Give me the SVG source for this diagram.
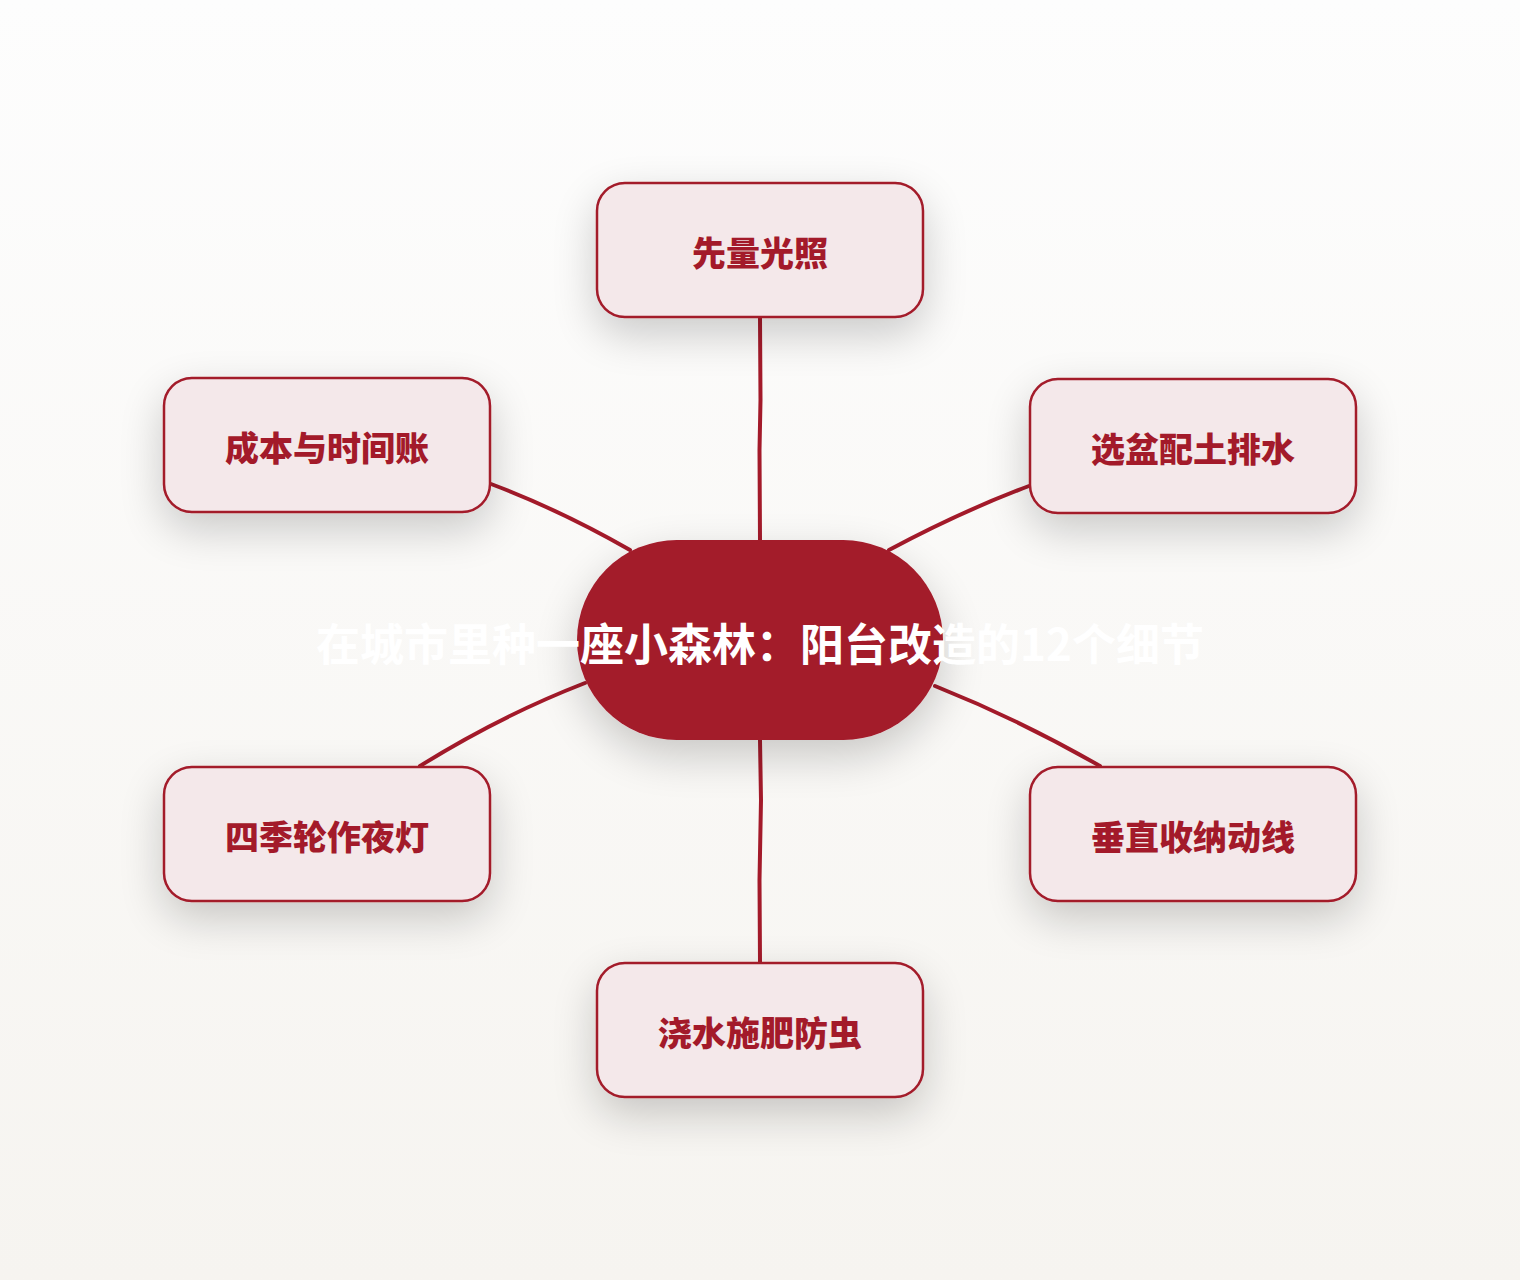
<svg xmlns="http://www.w3.org/2000/svg" width="1520" height="1280" viewBox="0 0 1520 1280">
<defs>
<linearGradient id="bg" x1="0" y1="0" x2="0" y2="1">
<stop offset="0" stop-color="#fdfdfd"/>
<stop offset="1" stop-color="#f6f4f0"/>
</linearGradient>
<filter id="sh" x="-40%" y="-50%" width="180%" height="220%">
<feGaussianBlur in="SourceAlpha" stdDeviation="22"/>
<feOffset dx="0" dy="16" result="b"/>
<feComponentTransfer><feFuncA type="linear" slope="0.2"/></feComponentTransfer>
<feMerge><feMergeNode/><feMergeNode in="SourceGraphic"/></feMerge>
</filter>
<style>
.box{fill:#f4e8ea;stroke:#a31a2a;stroke-width:2.5}
.lbl{font-family:"Noto Sans CJK SC","Noto Sans",sans-serif;font-weight:900;font-size:34px;fill:#a31a2a;text-anchor:middle;dominant-baseline:central}
.edge{fill:none;stroke:#a31a2a;stroke-width:4;stroke-linecap:round;stroke-linejoin:round}
.title{font-family:"Noto Sans CJK SC","Noto Sans",sans-serif;font-weight:700;font-size:44px;fill:#ffffff;text-anchor:middle;dominant-baseline:central}
</style>
</defs>
<rect width="1520" height="1280" fill="url(#bg)"/>
<g id="connectors">
<path class="edge" d="M760,318 L760.5,400 L759.5,450 L760,540"/>
<path class="edge" d="M760,740 L761,800 L759.5,880 L760,962"/>
<path class="edge" d="M491,484 Q560,510 630,550"/>
<path class="edge" d="M420,766 Q500,716 585,683"/>
<path class="edge" d="M1029,486 Q960,512 889,550"/>
<path class="edge" d="M935,686 Q1020,720 1100,766"/>
</g>
<g id="center">
<rect x="577" y="540" width="366" height="200" rx="100" fill="#a31a2a" filter="url(#sh)"/>
<text class="title" x="760" y="642">在城市里种一座小森林：阳台改造的12个细节</text>
</g>
<g id="n-top">
<rect class="box" x="597" y="183" width="326" height="134" rx="28" filter="url(#sh)"/>
<text class="lbl" x="760" y="251">先量光照</text>
</g>
<g id="n-lt">
<rect class="box" x="164" y="378" width="326" height="134" rx="28" filter="url(#sh)"/>
<text class="lbl" x="327" y="446">成本与时间账</text>
</g>
<g id="n-rt">
<rect class="box" x="1030" y="379" width="326" height="134" rx="28" filter="url(#sh)"/>
<text class="lbl" x="1193" y="447">选盆配土排水</text>
</g>
<g id="n-lb">
<rect class="box" x="164" y="767" width="326" height="134" rx="28" filter="url(#sh)"/>
<text class="lbl" x="327" y="835">四季轮作夜灯</text>
</g>
<g id="n-rb">
<rect class="box" x="1030" y="767" width="326" height="134" rx="28" filter="url(#sh)"/>
<text class="lbl" x="1193" y="835">垂直收纳动线</text>
</g>
<g id="n-bottom">
<rect class="box" x="597" y="963" width="326" height="134" rx="28" filter="url(#sh)"/>
<text class="lbl" x="760" y="1031">浇水施肥防虫</text>
</g>
</svg>
